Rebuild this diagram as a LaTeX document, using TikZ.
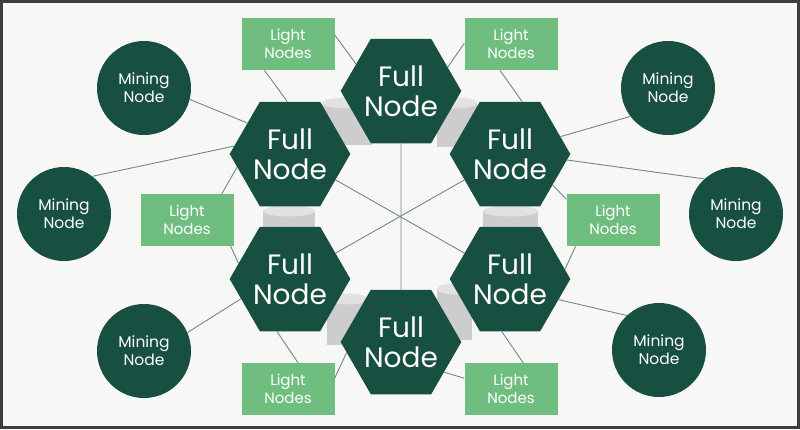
\documentclass[tikz,border=0pt]{standalone}
\usepackage{fontspec}
\setmainfont{Poppins}
\usetikzlibrary{shapes.geometric}
\definecolor{dg}{HTML}{174F40}
\definecolor{lg}{HTML}{6FBE7F}
\definecolor{ln}{HTML}{6F8A84}
\definecolor{bgc}{HTML}{F7F7F6}
\definecolor{frm}{HTML}{3E3E3E}
\definecolor{cyl}{HTML}{CDCDCD}
\definecolor{capc}{HTML}{E2E2E2}
\newcommand{\drawcyl}[4]{%
  \fill[cyl] (#1,#3) rectangle (#2,#4);
  \fill[capc] ({(#1+#2)/2},#3) ellipse [x radius={((#2)-(#1))/2*1pt}, y radius=5.5pt];
}
\begin{document}
\begin{tikzpicture}[x=1pt,y=-1pt,
  full/.style={regular polygon, regular polygon sides=6, minimum size=116pt, inner sep=0pt,
    fill=dg, text=white, font=\fontsize{28}{30}\selectfont, align=center},
  mine/.style={circle, minimum size=94pt, inner sep=0pt, fill=dg, text=white,
    font=\fontsize{15.5}{18}\selectfont, align=center},
  light/.style={rectangle, minimum width=93pt, minimum height=52pt, inner sep=0pt,
    fill=lg, text=white, font=\fontsize{15}{18}\selectfont, align=center},
  link/.style={draw=ln, line width=0.9pt}]
% frame and background
\fill[frm] (0,0) rectangle (800,429);
\fill[bgc] (3,2.5) rectangle (797,426);
% cylinders between full nodes
\drawcyl{322}{372}{103}{145}
\drawcyl{437}{477}{103}{147}
\drawcyl{263}{315}{211}{232}
\drawcyl{483}{538}{211}{232}
\drawcyl{327}{368}{299}{345}
\drawcyl{437}{472}{289}{340}
% full nodes
\node[full] (hT)  at (401,91)  {Full\\Node};
\node[full] (hTL) at (290,154) {Full\\Node};
\node[full] (hTR) at (510,154) {Full\\Node};
\node[full] (hBL) at (290,279) {Full\\Node};
\node[full] (hBR) at (510,279) {Full\\Node};
\node[full] (hB)  at (401,342) {Full\\Node};
% mining nodes
\node[mine] (mTL) at (144,88)  {Mining\\Node};
\node[mine] (mL)  at (64,214)  {Mining\\Node};
\node[mine] (mBL) at (144,351) {Mining\\Node};
\node[mine] (mTR) at (668,88)  {Mining\\Node};
\node[mine] (mR)  at (736,214) {Mining\\Node};
\node[mine] (mBR) at (659,350) {Mining\\Node};
% light nodes
\node[light] (lTL) at (288,44)  {Light\\Nodes};
\node[light] (lTR) at (511,44)  {Light\\Nodes};
\node[light] (lL)  at (187,220) {Light\\Nodes};
\node[light] (lR)  at (613,220) {Light\\Nodes};
\node[light] (lBL) at (288,389) {Light\\Nodes};
\node[light] (lBR) at (511,389) {Light\\Nodes};
% connectors
\draw[link] (mTL.-14) -- (hTL.144);
\draw[link] (mL.53) -- (hTL.172);
\draw[link] (lTL.228) -- (hTL.93);
\draw[link] (lTL.11) -- (hT.149);
\draw[link] (lTR.179) -- (hT.27);
\draw[link] (lTR.247) -- (hTR.77);
\draw[link] (mTR.217) -- (hTR.19);
\draw[link] (mR.132) -- (hTR.354);
\draw[link] (lL.37) -- (hTL.194);
\draw[link] (lL.329) -- (hBL.163);
\draw[link] (mBL.23) -- (hBL.202);
\draw[link] (lBL.69) -- (hBL.256);
\draw[link] (lBL.13) -- (hB.191);
\draw[link] (lR.156) -- (hTR.324);
\draw[link] (lR.215) -- (hBR.10);
\draw[link] (mBR.133) -- (hBR.337);
\draw[link] (lBR.65) -- (hBR.261);
\draw[link] (lBR.167) -- (hB.325);
\draw[link] (hT) -- (hB);
\draw[link] (hTL) -- (hBR);
\draw[link] (hTR) -- (hBL);
\end{tikzpicture}
\end{document}
